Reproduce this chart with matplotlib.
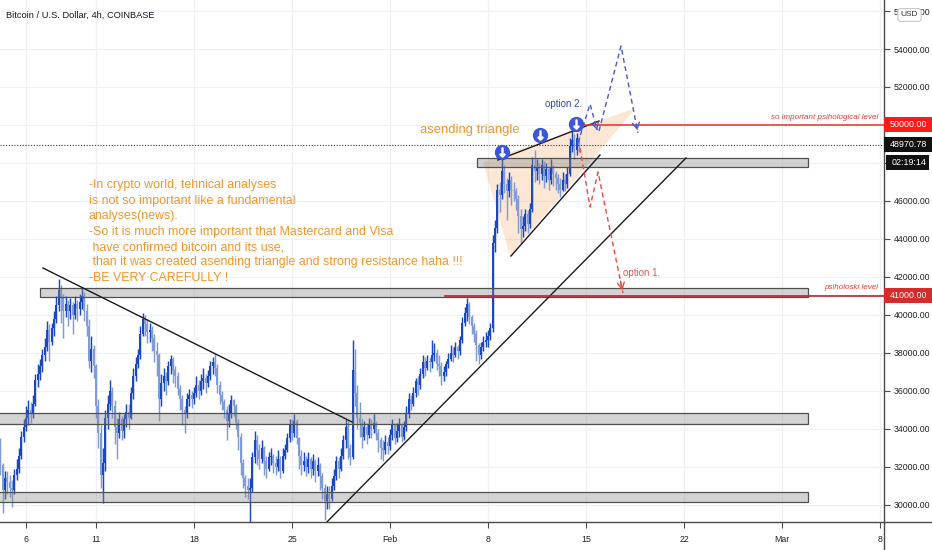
import numpy as np
import matplotlib
matplotlib.use("Agg")
import matplotlib.pyplot as plt
import matplotlib.font_manager as fm
import matplotlib.transforms as mtrans
from matplotlib.patches import Rectangle, Polygon
from matplotlib.lines import Line2D

# ---------------- fonts ----------------
_names = {f.name for f in fm.fontManager.ttflist}
if "Liberation Sans Narrow" in _names:
    plt.rcParams["font.family"] = ["Liberation Sans Narrow", "DejaVu Sans"]
    S = 1.0
else:
    plt.rcParams["font.family"] = ["Liberation Sans", "DejaVu Sans"]
    S = 0.82

# ---------------- data (BTC/USD 4h, prices in thousands) ----------------
START_DAY = 3          # Jan 4 2021 00:00 (day 0 = Jan 1)
FIRST_OPEN = 33.0
close_k = [
    33.4, 32.1, 30.8, 31.4, 31.2, 30.9,   # Jan 4
    30.8, 31.6, 31.9, 32.6, 33.6, 34.1,   # Jan 5
    34.6, 35.0, 34.8, 35.3, 36.6, 36.9,   # Jan 6
    37.3, 37.9, 38.3, 39.2, 38.6, 39.3,   # Jan 7
    39.8, 40.5, 41.3, 40.9, 40.2, 40.6,   # Jan 8
    40.2, 40.5, 40.0, 40.6, 40.3, 40.7,   # Jan 9
    41.0, 40.2, 39.4, 37.6, 38.2, 37.3,   # Jan 10
    35.2, 33.8, 31.6, 32.2, 34.6, 35.3,   # Jan 11
    36.0, 35.2, 34.1, 33.8, 34.5, 33.9,   # Jan 12
    34.5, 34.9, 34.6, 35.9, 36.8, 37.4,   # Jan 13
    37.9, 39.0, 39.8, 39.5, 39.1, 39.2,   # Jan 14
    38.8, 38.1, 37.9, 35.6, 36.4, 36.8,   # Jan 15
    36.5, 37.3, 37.7, 37.1, 36.8, 36.1,   # Jan 16
    35.6, 35.0, 34.8, 35.6, 35.8, 35.6,   # Jan 17
    35.9, 36.3, 36.0, 36.5, 36.7, 36.4,   # Jan 18
    36.8, 37.3, 37.5, 37.2, 36.3, 35.8,   # Jan 19
    35.4, 35.0, 34.4, 34.8, 35.5, 35.2,   # Jan 20
    34.3, 33.6, 32.2, 31.4, 31.0, 30.8,   # Jan 21
    30.9, 32.5, 33.4, 32.9, 32.4, 33.0,   # Jan 22
    32.3, 31.9, 32.5, 32.6, 32.2, 32.0,   # Jan 23
    32.4, 31.8, 32.6, 32.9, 33.5, 34.2,   # Jan 24
    33.8, 34.4, 33.5, 32.6, 32.1, 32.3,   # Jan 25
    32.0, 32.4, 31.9, 32.3, 31.8, 32.1,   # Jan 26
    31.5, 30.9, 30.2, 30.6, 30.3, 31.0,   # Jan 27
    31.5, 32.3, 31.9, 32.6, 33.4, 34.1,   # Jan 28
    33.0, 32.5, 37.1, 35.9, 34.6, 34.3,   # Jan 29
    33.6, 34.1, 33.7, 34.2, 34.0, 34.3,   # Jan 30
    33.8, 33.4, 33.0, 32.9, 33.3, 33.1,   # Jan 31
    33.7, 34.2, 33.5, 33.9, 34.2, 33.6,   # Feb 1
    34.1, 34.8, 35.6, 35.3, 35.9, 36.5,   # Feb 2
    36.3, 36.9, 37.5, 37.2, 37.6, 37.5,   # Feb 3
    37.9, 38.0, 37.4, 37.3, 36.8, 37.0,   # Feb 4
    37.4, 37.7, 38.0, 37.9, 38.3, 38.1,   # Feb 5
    38.7, 39.6, 40.1, 40.6, 39.9, 39.4,   # Feb 6
    39.0, 38.4, 37.9, 38.3, 38.6, 38.7,   # Feb 7
    38.9, 39.3, 43.8, 44.6, 46.6, 46.3,   # Feb 8
    47.6, 46.9, 46.5, 47.1, 46.6, 46.5,   # Feb 9
    46.1, 45.2, 44.5, 44.7, 45.3, 44.8,   # Feb 10
    45.6, 47.9, 47.6, 47.8, 47.4, 47.9,   # Feb 11
    47.3, 47.7, 47.1, 47.8, 47.4, 47.2,   # Feb 12
    46.9, 46.6, 47.1, 46.9, 47.4, 48.9,   # Feb 13
    49.2, 48.7, 49.3, 48.97,              # Feb 14
]
high_k = [
    33.7, 33.5, 32.2, 31.8, 31.8, 31.6,
    31.3, 31.9, 32.4, 33.0, 33.9, 34.5,
    35.2, 35.5, 35.4, 35.8, 36.9, 37.4,
    37.7, 38.2, 38.8, 39.7, 39.5, 39.6,
    40.2, 41.0, 41.9, 41.6, 41.1, 41.0,
    40.8, 40.9, 40.7, 41.0, 40.8, 41.1,
    41.4, 41.2, 40.6, 39.8, 38.9, 38.4,
    37.4, 35.6, 34.2, 33.0, 35.0, 35.8,
    36.6, 36.2, 35.5, 34.6, 34.9, 34.7,
    34.8, 35.3, 35.3, 36.2, 37.2, 37.8,
    38.2, 39.4, 40.1, 40.0, 39.8, 39.6,
    39.4, 39.0, 38.6, 38.0, 36.9, 37.2,
    37.0, 37.6, 37.9, 37.8, 37.3, 37.0,
    36.3, 35.8, 35.2, 35.9, 36.1, 36.0,
    36.2, 36.8, 36.6, 36.9, 37.2, 36.9,
    37.1, 37.6, 37.8, 38.0, 37.4, 36.5,
    36.0, 35.6, 35.2, 35.3, 35.8, 35.6,
    35.3, 34.5, 33.8, 32.4, 31.6, 31.4,
    31.4, 32.8, 33.9, 33.7, 33.2, 33.4,
    33.1, 32.6, 32.8, 33.0, 32.7, 32.6,
    32.9, 32.6, 33.0, 33.2, 33.8, 34.5,
    34.5, 34.8, 34.5, 33.6, 32.9, 32.8,
    32.6, 32.8, 32.5, 32.7, 32.4, 32.5,
    32.2, 31.7, 31.1, 31.0, 31.0, 31.4,
    31.9, 32.6, 32.5, 33.0, 33.7, 34.5,
    34.4, 33.2, 38.7, 38.2, 36.3, 35.4,
    34.5, 34.4, 34.3, 34.6, 34.5, 34.8,
    34.4, 34.0, 33.6, 33.4, 33.7, 33.6,
    34.0, 34.5, 34.3, 34.3, 34.6, 34.3,
    34.4, 35.2, 35.9, 35.8, 36.2, 36.7,
    36.8, 37.2, 37.9, 37.8, 37.9, 37.8,
    38.7, 38.5, 38.2, 37.9, 37.5, 37.3,
    37.6, 38.0, 38.4, 38.3, 38.6, 38.4,
    38.9, 39.9, 40.4, 40.9, 40.7, 40.0,
    39.6, 39.2, 38.5, 38.6, 38.9, 39.1,
    39.2, 39.6, 44.2, 45.0, 46.9, 47.0,
    48.2, 47.9, 47.2, 47.5, 47.3, 47.0,
    46.7, 46.3, 45.6, 45.2, 45.6, 45.5,
    45.9, 48.3, 48.7, 48.2, 48.0, 48.2,
    48.1, 48.0, 47.8, 48.2, 47.9, 47.6,
    47.4, 47.2, 47.5, 47.4, 47.8, 49.3,
    49.7, 49.5, 49.6, 49.4,
]
low_k = [
    32.8, 31.6, 29.6, 30.3, 30.6, 30.4,
    29.9, 30.6, 31.3, 31.7, 32.4, 33.3,
    33.9, 34.2, 34.3, 34.6, 35.2, 36.2,
    36.6, 37.0, 37.6, 38.1, 37.6, 38.4,
    38.9, 39.6, 40.2, 39.6, 38.8, 39.9,
    39.4, 39.8, 39.0, 39.8, 39.7, 40.0,
    40.3, 39.7, 38.9, 37.2, 37.0, 36.7,
    34.6, 33.0, 30.9, 30.1, 31.8, 34.0,
    35.0, 34.6, 33.2, 32.4, 33.5, 33.4,
    33.5, 34.1, 34.0, 34.5, 35.6, 36.5,
    37.2, 37.7, 38.9, 38.9, 38.5, 38.6,
    38.1, 37.5, 36.8, 34.4, 35.2, 36.0,
    35.8, 36.3, 36.9, 36.4, 36.2, 35.8,
    35.0, 34.2, 33.8, 34.6, 35.2, 35.1,
    35.3, 35.7, 35.6, 35.8, 36.1, 35.9,
    36.2, 36.6, 36.9, 36.8, 35.9, 35.3,
    35.0, 34.6, 33.4, 34.1, 34.6, 34.7,
    34.0, 32.9, 31.6, 30.9, 30.4, 30.3,
    29.1, 30.7, 32.2, 32.1, 31.9, 32.2,
    31.6, 31.4, 31.8, 32.1, 31.7, 31.6,
    31.8, 31.4, 31.7, 32.4, 32.8, 33.3,
    33.4, 33.6, 33.2, 31.9, 31.6, 31.8,
    31.5, 31.7, 31.4, 31.6, 31.2, 31.5,
    30.8, 30.3, 29.2, 29.8, 29.8, 30.2,
    30.8, 31.3, 31.4, 31.8, 32.4, 33.0,
    32.4, 32.1, 32.4, 35.2, 34.0, 33.6,
    33.0, 33.4, 33.2, 33.5, 33.5, 33.8,
    33.4, 32.8, 32.4, 32.3, 32.7, 32.7,
    32.9, 33.4, 33.2, 33.3, 33.6, 33.3,
    33.4, 33.9, 34.6, 35.0, 35.2, 35.7,
    35.8, 36.1, 36.7, 36.8, 37.1, 37.0,
    37.2, 37.6, 37.1, 36.8, 36.3, 36.5,
    36.8, 37.2, 37.6, 37.5, 37.8, 37.7,
    37.9, 38.5, 39.4, 39.7, 39.5, 39.0,
    38.6, 37.6, 37.4, 37.7, 38.1, 38.3,
    38.3, 38.7, 39.1, 43.3, 44.3, 45.4,
    46.1, 46.4, 45.0, 46.2, 45.8, 46.0,
    45.5, 44.3, 43.8, 44.1, 44.4, 44.3,
    44.6, 45.4, 47.0, 47.1, 46.9, 47.1,
    46.7, 47.0, 46.6, 46.9, 46.8, 46.6,
    46.4, 46.2, 46.5, 46.5, 46.7, 47.3,
    48.6, 48.2, 48.4, 48.6,
]
LAST_PRICE = 48970.78
LEVEL_HIGH = 50000.0
LEVEL_LOW = 41000.0
x_tick_days = [5, 10, 17, 24, 31, 38, 45, 52, 59, 66]
x_tick_labels = ["6", "11", "18", "25", "Feb", "8", "15", "22", "Mar", "8"]
y_ticks = list(range(30000, 56001, 2000))
hidden_y_labels = [48000, 50000]   # covered by price tags

text_block = [
    "-In crypto world, tehnical analyses",
    "is not so important like a fundamental",
    "analyses(news).",
    "-So it is much more important that Mastercard and Visa",
    " have confirmed bitcoin and its use,",
    " than it was created asending triangle and strong resistance haha !!!",
    "-BE VERY CAREFULLY !",
]

# font sizes (tuned for the available family)
if S == 1.0:
    FS = dict(block=9.6, tri=10.0, opt=7.8, lvl=6.8, title=8.2, tick=7.6, tag=7.6, usd=7.2)
else:
    FS = dict(block=8.9, tri=9.4, opt=7.0, lvl=5.8, title=6.7, tick=6.3, tag=6.4, usd=6.0)

# ---------------- figure ----------------
W, H = 932, 550
fig = plt.figure(figsize=(W / 100, H / 100), dpi=100)
fig.patch.set_facecolor("white")
ax = fig.add_axes([0, (H - 522) / H, 884 / W, 522 / H])
ax.set_xlim(3.1429, 66.286)
ax.set_ylim(29105, 56579)
PX_Y = 1 / 0.019  # dollars per pixel

AXC = "#4a4a4a"
for s in ("top", "left"):
    ax.spines[s].set_visible(False)
for s in ("right", "bottom"):
    ax.spines[s].set_color(AXC)
    ax.spines[s].set_linewidth(1.0)
fig.add_artist(Line2D([884 / W, 1], [(H - 522) / H] * 2, transform=fig.transFigure, color=AXC, lw=1.0))
fig.add_artist(Line2D([884 / W] * 2, [0, (H - 522) / H], transform=fig.transFigure, color=AXC, lw=1.0))

ax.yaxis.tick_right()
ax.set_yticks(y_ticks)
ax.set_yticklabels(["" if v in hidden_y_labels else f"{v:.2f}" for v in y_ticks])
ax.set_xticks(x_tick_days)
ax.set_xticklabels(x_tick_labels)
ax.tick_params(axis="y", length=4, width=0.8, color=AXC, labelsize=FS["tick"], labelcolor="#222222", pad=3)
ax.tick_params(axis="x", length=4, width=0.8, color=AXC, labelsize=FS["tick"], labelcolor="#222222", pad=5)
ax.grid(True, color="#eef0f6", lw=0.9)
ax.set_axisbelow(True)

# ---------------- candles ----------------
c = np.array(close_k) * 1000
o = np.r_[FIRST_OPEN * 1000, c[:-1]]
hi = np.maximum(np.array(high_k) * 1000, np.maximum(o, c))
lo = np.minimum(np.array(low_k) * 1000, np.minimum(o, c))
xd = START_DAY + np.arange(len(c)) / 6
UP, DOWN = "#1a48c0", "#809bd6"
col = np.where(c >= o, UP, DOWN)
ax.vlines(xd, lo, hi, colors=col, lw=1.05, zorder=3)
ax.bar(xd, np.maximum(np.abs(c - o), 80), bottom=np.minimum(o, c), width=0.15,
       color=col, lw=0, zorder=3)

# ---------------- drawings ----------------
zones = [  # (day0, day1, price_low, price_high)
    (37.2, 60.86, 47780, 48280),
    (6.0, 60.86, 40950, 41420),
    (2.0, 60.86, 34260, 34860),
    (2.0, 60.86, 30170, 30700),
]
for d0, d1, p0, p1 in zones:
    ax.add_patch(Rectangle((d0, p0), d1 - d0, p1 - p0, fc=(0.55, 0.55, 0.55, 0.38),
                           ec="#505050", lw=0.9, zorder=4))

# ascending triangle fill
ax.add_patch(Polygon([(37.64, 48053), (39.57, 43105), (48.57, 50895)], closed=True,
                     fc="#f5a65e", alpha=0.26, lw=0, zorder=2))

trend_lines = [
    ((6.21, 42474), (28.29, 34368)),
    ((26.14, 28842), (52.14, 48263)),
    ((39.64, 43105), (46.0, 48421)),
    ((38.71, 48158), (45.93, 50211)),
]
for (a, b) in trend_lines:
    ax.plot([a[0], b[0]], [a[1], b[1]], color="#1a1a1a", lw=1.0, zorder=5)

# levels
ax.plot([44.21, 66.4], [LEVEL_HIGH] * 2, color="#ee2b2b", lw=1.1, zorder=5)
ax.plot([34.93, 66.4], [LEVEL_LOW] * 2, color="#b3232b", lw=1.2, zorder=5)
ax.axhline(LAST_PRICE, color="#3a3a3a", lw=0.8, ls=(0, (1, 1.5)), zorder=5)

ax.text(65.86, 50421, "so important psihological level", color="#ee3a3a", fontsize=FS["lvl"],
        style="italic", ha="right", va="center", zorder=6)
ax.text(65.86, 41421, "psiholoski level", color="#ee3a3a", fontsize=FS["lvl"],
        style="italic", ha="right", va="center", zorder=6)

# dashed scenario paths
def dashed_path(pts, color):
    xs = [p[0] for p in pts]
    ys = [p[1] for p in pts]
    ax.plot(xs, ys, color=color, lw=1.0, ls=(0, (3.5, 2.5)), zorder=6)
    a, b = pts[-2], pts[-1]
    near = (b[0] - 0.12 * (b[0] - a[0]), b[1] - 0.12 * (b[1] - a[1]))
    ax.annotate("", xy=b, xytext=near,
                arrowprops=dict(arrowstyle="->,head_length=0.45,head_width=0.25",
                                color=color, lw=1.0), zorder=6)

BLUE, RED = "#4b57d6", "#ea4a44"
dashed_path([(44.43, 49053), (45.29, 51105), (45.79, 49737)], BLUE)
dashed_path([(45.93, 49684), (47.5, 54158), (48.71, 49579)], BLUE)
dashed_path([(44.57, 48789), (45.29, 45684), (45.86, 47526), (47.64, 41158)], RED)

# top markers
markers = [(39.0, 48580), (41.71, 49470), (44.29, 50050)]
for mx, my in markers:
    ax.plot(mx, my, marker="o", ms=10, mfc="#3d55d8", mec="#3d55d8", zorder=7)
    ax.plot(mx, my, marker=r"$\downarrow$", ms=6.5, mfc="white", mec="white", zorder=8)

# text annotations
ORANGE = "#f5952a"
ax.text(33.14, 49737, "asending triangle", color=ORANGE, fontsize=FS["tri"], ha="left",
        va="center", zorder=6)
ax.text(42.07, 51105, "option 2.", color="#2f4cb5", fontsize=FS["opt"], ha="left", va="center", zorder=6)
ax.text(47.64, 42210, "option 1.", color="#e25555", fontsize=FS["opt"], ha="left", va="center", zorder=6)
for k, line in enumerate(text_block):
    ax.text(9.5, 46842 - k * 15.5 * PX_Y, line, color=ORANGE, fontsize=FS["block"],
            ha="left", va="center", zorder=6)

# ---------------- right-axis price tags ----------------
trans = mtrans.blended_transform_factory(ax.transAxes, ax.transData)
def tag(price, text, fc, x0px=884, x1px=932, hpx=15):
    h = hpx * PX_Y
    ax.add_patch(Rectangle((x0px / 884, price - h / 2), (x1px - x0px) / 884, h, transform=trans,
                           fc=fc, ec="none", clip_on=False, zorder=10))
    ax.text((x0px + 6) / 884, price, text, transform=trans, color="white", fontsize=FS["tag"],
            ha="left", va="center", clip_on=False, zorder=11)

tag(LEVEL_HIGH, f"{LEVEL_HIGH:.2f}", "#ff1a1a")
tag(LAST_PRICE, f"{LAST_PRICE:.2f}", "#111111")
tag(48000, "02:19:14", "#111111", x0px=886, x1px=929)
tag(LEVEL_LOW, f"{LEVEL_LOW:.2f}", "#d52b2b")

# title and currency box
fig.text(6 / W, 1 - 15 / H, "Bitcoin / U.S. Dollar, 4h, COINBASE", fontsize=FS["title"],
         color="#131722", ha="left", va="center")
fig.text(909.5 / W, 1 - 15 / H, "USD", fontsize=FS["usd"], color="#333333", ha="center", va="center",
         bbox=dict(boxstyle="round,pad=0.35", fc="white", ec="#c8c8c8", lw=0.8), zorder=12)

fig.savefig("out.png", dpi=100, facecolor="white")
